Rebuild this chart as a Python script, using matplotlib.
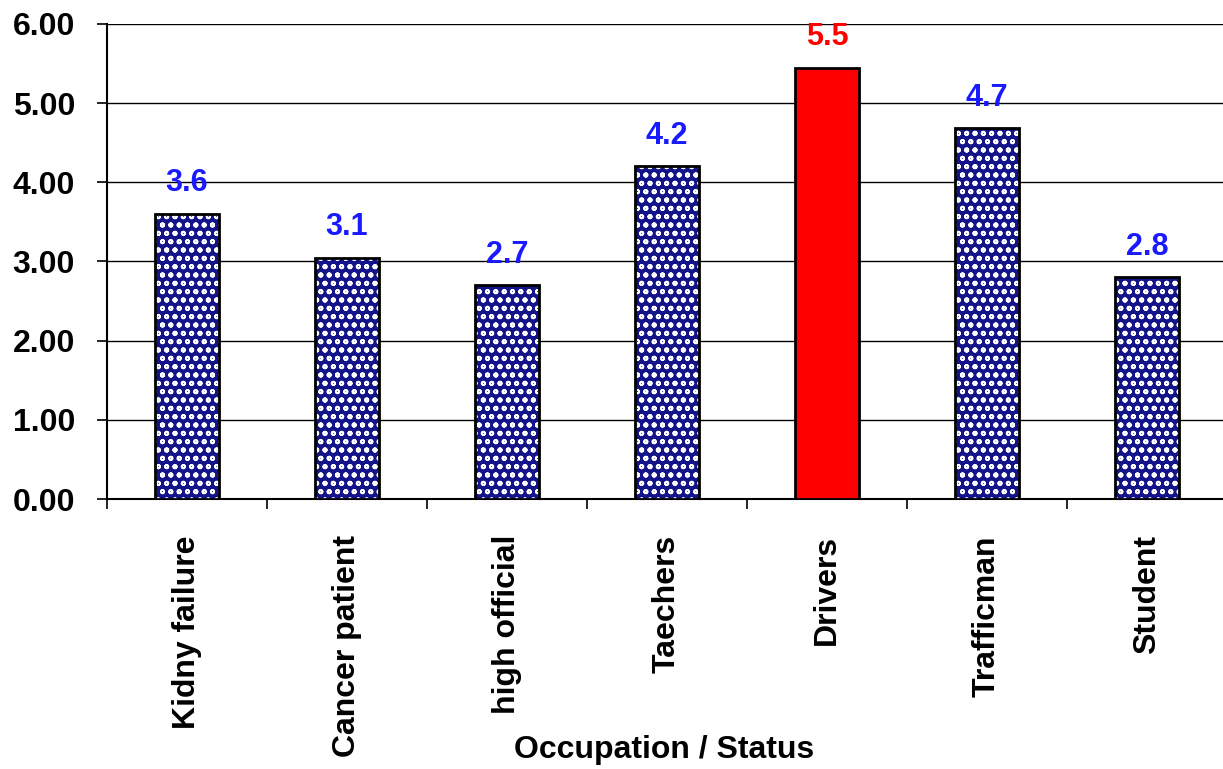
import numpy as np
import matplotlib.pyplot as plt

plt.rcParams['font.family'] = ['Liberation Sans', 'DejaVu Sans']
plt.rcParams['font.weight'] = 'bold'
plt.rcParams['hatch.linewidth'] = 1.3

categories = ['Kidny failure', 'Cancer patient', 'high official', 'Taechers',
              'Drivers', 'Trafficman', 'Student']
values = [3.6, 3.05, 2.7, 4.2, 5.45, 4.68, 2.8]
value_labels = ['3.6', '3.1', '2.7', '4.2', '5.5', '4.7', '2.8']
highlight = 'Drivers'

font_size = 23

fig = plt.figure(figsize=(12.23, 7.69), dpi=100)
ax = fig.add_axes([0.0875, 0.3511, 0.9158, 0.6177])

x = np.arange(len(categories))
bar_width = 0.4

for i, (cat, val, lab) in enumerate(zip(categories, values, value_labels)):
    if cat == highlight:
        ax.bar(x[i], val, bar_width, color='#ff0000', edgecolor='black',
               linewidth=2, zorder=3)
        txt_color = '#ff0000'
    else:
        # navy fill with white dots, black outline drawn on top
        ax.bar(x[i], val, bar_width, color='#14148a', edgecolor='white',
               hatch='oo', linewidth=0, zorder=3)
        ax.bar(x[i], val, bar_width, color='none', edgecolor='black',
               linewidth=2, zorder=4)
        txt_color = '#1a1aff'
    ax.annotate(lab, (x[i], val), xytext=(0, 22), textcoords='offset points',
                ha='center', va='center', fontsize=font_size - 1,
                fontweight='bold', color=txt_color, zorder=5)

ax.set_xlim(-0.5, len(categories) - 0.5)
ax.set_ylim(0, 6)
ax.set_yticks(np.arange(0, 7, 1))
ax.set_yticklabels([f'{v:.2f}' for v in np.arange(0, 7, 1)], fontsize=font_size)
ax.yaxis.grid(True, color='black', linewidth=1)
ax.set_axisbelow(True)

ax.set_xticks(x)
ax.set_xticklabels(categories, rotation=90, fontsize=font_size, va='top')
ax.tick_params(axis='x', which='major', length=0, pad=26)
ax.set_xticks(np.arange(-0.5, len(categories)), minor=True)
ax.tick_params(axis='x', which='minor', length=7, width=1.2, direction='out')
ax.tick_params(axis='y', length=7, width=1.2, pad=16)

ax.set_xlabel('Occupation / Status', fontsize=font_size, fontweight='bold',
              va='center')
ax.xaxis.set_label_coords(0.497, -0.528)

ax.spines['top'].set_visible(False)
ax.spines['right'].set_visible(False)
ax.spines['left'].set_linewidth(1.5)
ax.spines['bottom'].set_linewidth(1.5)

plt.savefig('out.png', dpi=100)
